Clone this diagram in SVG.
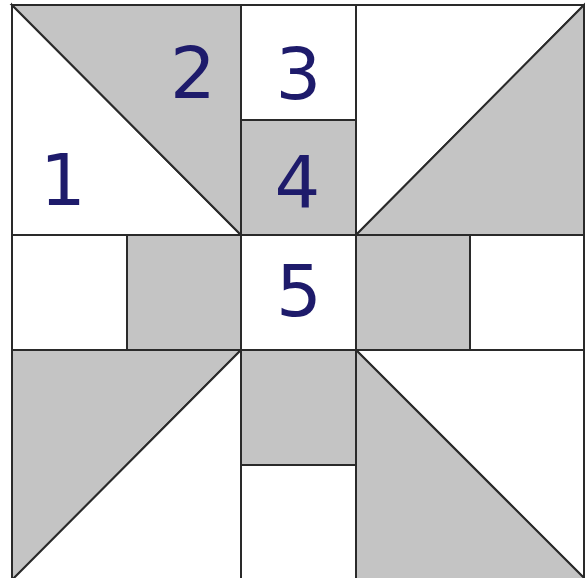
<svg xmlns="http://www.w3.org/2000/svg" width="585" height="578" viewBox="0 0 585 578">
<style>
.w{fill:#ffffff;stroke:#2a2a2a;stroke-width:2;stroke-linejoin:miter}
.g{fill:#c4c4c4;stroke:#2a2a2a;stroke-width:2;stroke-linejoin:miter}
.t{font-family:"DejaVu Sans","Verdana",sans-serif;font-size:72px;fill:#1e1b6b;text-anchor:middle}
</style>
<rect x="0" y="0" width="585" height="578" fill="#ffffff"/>
<g id="piece1"><polygon class="w" points="12,5 241,235 12,235"/><text class="t" x="63" y="205">1</text></g>
<g id="piece2"><polygon class="g" points="12,5 241,5 241,235"/><text class="t" x="193" y="98">2</text></g>
<g id="piece3"><rect class="w" x="241" y="5" width="115" height="115"/><text class="t" x="298.5" y="99">3</text></g>
<g id="piece4"><rect class="g" x="241" y="120" width="115" height="115"/><text class="t" x="297.5" y="207">4</text></g>
<g id="tr-white"><polygon class="w" points="356,5 584,5 356,235"/></g>
<g id="tr-gray"><polygon class="g" points="584,5 584,235 356,235"/></g>
<g id="ml-white"><rect class="w" x="12" y="235" width="115" height="115"/></g>
<g id="ml-gray"><rect class="g" x="127" y="235" width="114" height="115"/></g>
<g id="piece5"><rect class="w" x="241" y="235" width="115" height="115"/><text class="t" x="299" y="316">5</text></g>
<g id="mr-gray"><rect class="g" x="356" y="235" width="114" height="115"/></g>
<g id="mr-white"><rect class="w" x="470" y="235" width="114" height="115"/></g>
<g id="bl-gray"><polygon class="g" points="12,350 241,350 12,580"/></g>
<g id="bl-white"><polygon class="w" points="241,350 241,580 12,580"/></g>
<g id="bc-gray"><rect class="g" x="241" y="350" width="115" height="115"/></g>
<g id="bc-white"><rect class="w" x="241" y="465" width="115" height="115"/></g>
<g id="br-white"><polygon class="w" points="356,350 584,350 584,578"/></g>
<g id="br-gray"><polygon class="g" points="356,350 584,578 584,580 356,580"/></g>
<g id="connectors"></g>
</svg>
